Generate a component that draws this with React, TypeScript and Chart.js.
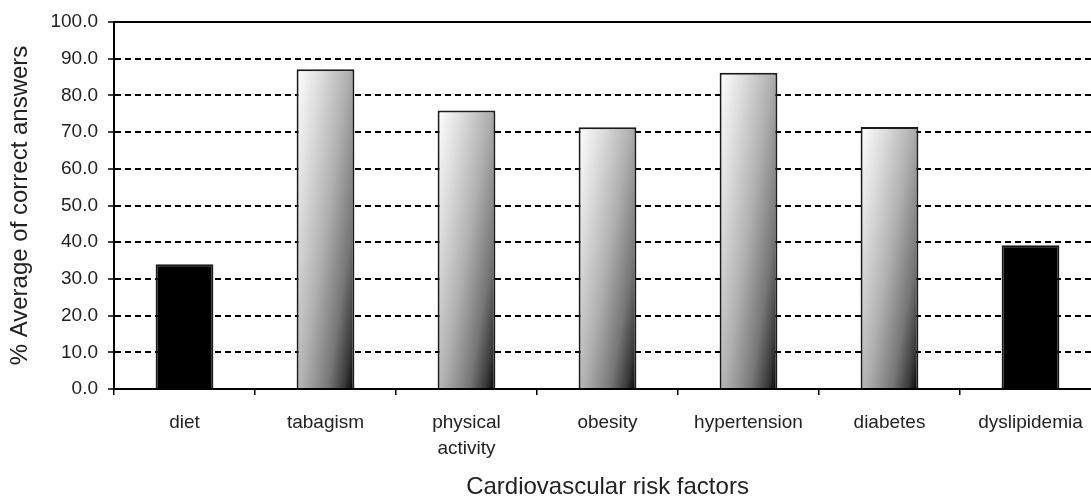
import React, { useEffect, useRef } from 'react';
import { Chart, registerables } from 'chart.js';

Chart.register(...registerables);

const categories: (string | string[])[] = [
  'diet',
  'tabagism',
  ['physical', 'activity'],
  'obesity',
  'hypertension',
  'diabetes',
  'dyslipidemia',
];
const averageCorrect: number[] = [34.0, 87.1, 75.9, 71.3, 86.2, 71.4, 39.2];
const yMin = 0;
const yMax = 100;
const yStep = 10;
const xTitle = 'Cardiovascular risk factors';
const yTitle = '% Average of correct answers';

const FONT = '"Liberation Sans", Arial, sans-serif';
const BAR_PCT = 0.41;
const LOW_THRESHOLD = 50;

function barFill(ctx: any) {
  const v = ctx.raw as number;
  if (typeof v !== 'number') return '#bbbbbb';
  if (v < LOW_THRESHOLD) return '#000000';
  const chart = ctx.chart;
  const xs = chart.scales && chart.scales.x;
  const ys = chart.scales && chart.scales.y;
  if (!xs || !ys || !chart.chartArea) return '#bbbbbb';
  const step = xs.getPixelForValue(1) - xs.getPixelForValue(0);
  const xc = xs.getPixelForValue(ctx.dataIndex);
  const W = Math.max(1, step * BAR_PCT);
  const L = xc - W / 2;
  const T = ys.getPixelForValue(v);
  const H = Math.max(1, ys.getPixelForValue(0) - T);
  const a = 0.55;
  const b = 0.45;
  const gx = a / W;
  const gy = b / H;
  const g2 = gx * gx + gy * gy;
  const grad = chart.ctx.createLinearGradient(L, T, L + gx / g2, T + gy / g2);
  grad.addColorStop(0, '#ffffff');
  grad.addColorStop(0.25, '#dadada');
  grad.addColorStop(0.5, '#b0b0b0');
  grad.addColorStop(0.75, '#767676');
  grad.addColorStop(0.9, '#3a3a3a');
  grad.addColorStop(1, '#000000');
  return grad;
}

const topBorder = {
  id: 'topBorder',
  afterDraw(chart: any) {
    const { ctx, chartArea } = chart;
    ctx.save();
    ctx.strokeStyle = '#000';
    ctx.lineWidth = 2;
    ctx.beginPath();
    ctx.moveTo(chartArea.left - 1, chartArea.top);
    ctx.lineTo(chartArea.right, chartArea.top);
    ctx.stroke();
    ctx.restore();
  },
};

export default function App() {
  const ref = useRef<HTMLCanvasElement | null>(null);

  useEffect(() => {
    if (!ref.current) return;
    const chart = new Chart(ref.current, {
      type: 'bar',
      data: {
        labels: categories,
        datasets: [
          {
            data: averageCorrect,
            backgroundColor: barFill,
            borderColor: '#1a1a1a',
            borderWidth: 2,
            barPercentage: BAR_PCT,
            categoryPercentage: 1,
          },
        ],
      },
      options: {
        responsive: false,
        animation: false,
        events: [],
        layout: { padding: { left: 0, right: 9, top: 22, bottom: 0 } },
        plugins: {
          legend: { display: false },
          tooltip: { enabled: false },
        },
        scales: {
          x: {
            offset: true,
            afterFit: (s: any) => {
              s.height = 110;
            },
            border: { display: true, color: '#000', width: 2 },
            grid: {
              display: true,
              offset: true,
              drawOnChartArea: false,
              drawTicks: true,
              tickLength: 6,
              tickColor: '#000',
              lineWidth: 1.5,
            },
            ticks: {
              autoSkip: false,
              maxRotation: 0,
              padding: 15,
              color: '#222',
              font: { family: FONT, size: 19, lineHeight: 1.35 },
            },
            title: {
              display: true,
              text: xTitle,
              color: '#222',
              padding: { top: 0, bottom: 0 },
              font: { family: FONT, size: 24, lineHeight: 1 },
            },
          },
          y: {
            min: yMin,
            max: yMax,
            afterFit: (s: any) => {
              s.width = 114;
            },
            border: { display: true, color: '#000', width: 2, dash: [6, 4] },
            grid: {
              color: (c: any) =>
                c.tick && (c.tick.value === yMin || c.tick.value === yMax)
                  ? 'rgba(0,0,0,0)'
                  : '#000',
              tickColor: '#000',
              lineWidth: 2,
              tickLength: 6,
              tickWidth: 1.5,
            },
            ticks: {
              stepSize: yStep,
              padding: 10,
              color: '#222',
              font: { family: FONT, size: 19 },
              callback: (v: any) => Number(v).toFixed(1),
            },
            title: {
              display: true,
              text: yTitle,
              color: '#222',
              padding: { top: 6, bottom: 0 },
              font: { family: FONT, size: 24, lineHeight: 1.2 },
            },
          },
        },
      },
      plugins: [topBorder],
    } as any);
    return () => chart.destroy();
  }, []);

  return (
    <div
      style={{
        position: 'fixed',
        left: 0,
        top: 0,
        width: 1091,
        height: 499,
        overflow: 'hidden',
        background: '#fff',
      }}
    >
      <canvas ref={ref} width={1110} height={499} style={{ width: 1110, height: 499, display: 'block' }} />
    </div>
  );
}
